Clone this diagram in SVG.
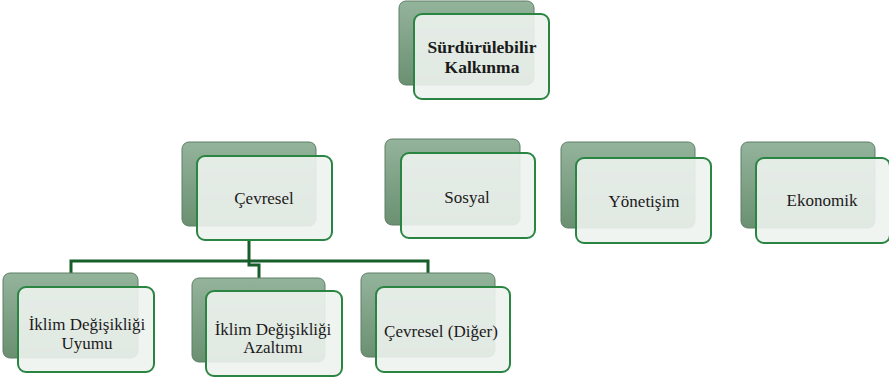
<svg xmlns="http://www.w3.org/2000/svg" width="889" height="381" viewBox="0 0 889 381">
<defs>
<linearGradient id="bg" x1="0" y1="0" x2="0" y2="1">
<stop offset="0" stop-color="#94b39b"/>
<stop offset="1" stop-color="#6a9071"/>
</linearGradient>
<style>
.back{fill:url(#bg);stroke:#5f7f66;stroke-width:1}
.front{fill:#eef3f0;fill-opacity:0.9;stroke:#2a8543;stroke-width:2}
.t{font-family:"Liberation Serif","Times New Roman",serif;font-size:17px;fill:#1a1a1a;text-anchor:middle}
.b{font-weight:bold;font-size:17.5px}
.c{fill:none;stroke:#175e2b;stroke-width:3}
</style>
</defs>
<rect width="889" height="381" fill="#ffffff"/>
<g id="connectors">
<path class="c" d="M249 240V265H259V278"/>
<path class="c" d="M71 274V261H428V274"/>
</g>
<g id="n-surdurulebilir">
<rect class="back" x="399" y="1" width="135" height="84" rx="7"/>
<rect class="front" x="414" y="14" width="135" height="85" rx="8"/>
<text class="t b" x="482" y="53">Sürdürülebilir</text>
<text class="t b" x="482" y="73">Kalkınma</text>
</g>
<g id="n-cevresel">
<rect class="back" x="182" y="142" width="134" height="84" rx="7"/>
<rect class="front" x="197" y="156" width="135" height="84" rx="8"/>
<text class="t" x="264" y="204">Çevresel</text>
</g>
<g id="n-sosyal">
<rect class="back" x="385" y="139" width="135" height="86" rx="7"/>
<rect class="front" x="401" y="153" width="134" height="85" rx="8"/>
<text class="t" x="467" y="203">Sosyal</text>
</g>
<g id="n-yonetisim">
<rect class="back" x="561" y="142" width="134" height="86" rx="7"/>
<rect class="front" x="576" y="158" width="135" height="85" rx="8"/>
<text class="t" x="644" y="207">Yönetişim</text>
</g>
<g id="n-ekonomik">
<rect class="back" x="741" y="142" width="134" height="86" rx="7"/>
<rect class="front" x="756" y="158" width="134" height="85" rx="8"/>
<text class="t" x="822" y="206">Ekonomik</text>
</g>
<g id="n-uyum">
<rect class="back" x="3" y="273" width="135" height="85" rx="7"/>
<rect class="front" x="18" y="287" width="136" height="85" rx="8"/>
<text class="t" x="87" y="330">İklim Değişikliği</text>
<text class="t" x="87" y="349">Uyumu</text>
</g>
<g id="n-azaltim">
<rect class="back" x="192" y="278" width="133" height="84" rx="7"/>
<rect class="front" x="206" y="291" width="136" height="85" rx="8"/>
<text class="t" x="273" y="335">İklim Değişikliği</text>
<text class="t" x="273" y="353">Azaltımı</text>
</g>
<g id="n-diger">
<rect class="back" x="361" y="273" width="134" height="84" rx="7"/>
<rect class="front" x="376" y="287" width="134" height="85" rx="8"/>
<text class="t" x="441" y="337">Çevresel (Diğer)</text>
</g>
</svg>
